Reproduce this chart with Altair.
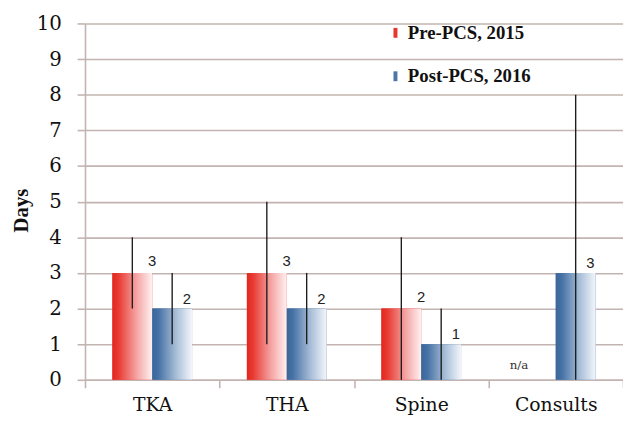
import altair as alt
import pandas as pd

categories = ["TKA", "THA", "Spine", "Consults"]
series = ["Pre-PCS, 2015", "Post-PCS, 2016"]
pre_values = [3, 3, 2, None]
post_values = [2, 2, 1, 3]
pre_low = [2, 1, 0, None]
pre_high = [4, 5, 4, None]
post_low = [1, 1, 0, 0]
post_high = [3, 3, 2, 8]
y_ticks = list(range(0, 11))
na_category = "Consults"
na_text = "n/a"

rows = []
for i, c in enumerate(categories):
    rows.append(dict(cat=c, series=series[0], value=pre_values[i], lo=pre_low[i], hi=pre_high[i]))
    rows.append(dict(cat=c, series=series[1], value=post_values[i], lo=post_low[i], hi=post_high[i]))
df = pd.DataFrame(rows)
na_df = pd.DataFrame([{"cat": na_category, "series": series[0], "value": 0, "text": na_text}])

GRID = "#c4b4b1"
SERIF_BOLD = "Liberation Serif"
SERIF = "DejaVu Serif"

x_axis = alt.Axis(title=None, tickBand="extent", labelAngle=0, labelFont=SERIF,
                  labelFontSize=19, labelColor="#111", labelPadding=8,
                  tickSize=8, tickColor=GRID, tickWidth=1.6,
                  domainColor=GRID, domainWidth=1.6, grid=False)
y_axis = alt.Axis(values=y_ticks, title="Days", titleFont=SERIF_BOLD, titleFontSize=21,
                  titleFontWeight="bold", titleColor="#111", titlePadding=5, titleY=189,
                  labelFont=SERIF, labelFontSize=20, labelColor="#111",
                  labelPadding=16, tickSize=8, tickColor=GRID, tickWidth=1.6,
                  grid=True, gridColor=GRID, gridWidth=1.6,
                  domainColor=GRID, domainWidth=1.6, labelOverlap=False)

x_enc = alt.X("cat:N", sort=categories,
              scale=alt.Scale(paddingInner=0, paddingOuter=0), axis=x_axis)
xo_enc = alt.XOffset("series:N", sort=series,
                     scale=alt.Scale(domain=series, paddingInner=0, paddingOuter=0.6875))
y_scale = alt.Scale(domain=[0, 10], nice=False)
y_val = alt.Y("value:Q", scale=y_scale, axis=y_axis)

base = alt.Chart(df)

legend_bars = base.mark_bar().encode(
    x=x_enc,
    xOffset=xo_enc,
    y=y_val,
    color=alt.Color("series:N", sort=series,
                    scale=alt.Scale(domain=series, range=["#e8352d", "#4a76a8"]),
                    legend=alt.Legend(orient="none", legendX=305, legendY=0, title=None,
                                      direction="vertical",
                                      symbolType="M-0.4,-1H0.4V1H-0.4Z", symbolSize=100,
                                      symbolStrokeWidth=0, symbolOpacity=1,
                                      labelFont=SERIF_BOLD, labelFontSize=19, labelFontWeight="bold",
                                      labelColor="#111", labelOffset=3, rowPadding=24,
                                      padding=0)),
)

red_grad = alt.Gradient(gradient="linear", x1=0, x2=1, y1=0, y2=0, stops=[
    alt.GradientStop(offset=0, color="#e2271f"),
    alt.GradientStop(offset=0.15, color="#e83a31"),
    alt.GradientStop(offset=0.6, color="#f5a2a2"),
    alt.GradientStop(offset=1, color="#fff1f1"),
])
blue_grad = alt.Gradient(gradient="linear", x1=0, x2=1, y1=0, y2=0, stops=[
    alt.GradientStop(offset=0, color="#3b669a"),
    alt.GradientStop(offset=0.15, color="#4571a5"),
    alt.GradientStop(offset=0.6, color="#a8bed7"),
    alt.GradientStop(offset=1, color="#f3f6fb"),
])

pre_only = alt.datum.series == series[0]
post_only = alt.datum.series == series[1]

red_bars = base.transform_filter(pre_only).mark_bar(fill=red_grad).encode(
    x=x_enc, xOffset=xo_enc, y=y_val)
blue_bars = base.transform_filter(post_only).mark_bar(fill=blue_grad).encode(
    x=x_enc, xOffset=xo_enc, y=y_val)

err = base.mark_rule(color="#1e1e1e", strokeWidth=1.4).encode(
    x=x_enc, xOffset=xo_enc, y=alt.Y("lo:Q", scale=y_scale, axis=y_axis), y2="hi:Q")

red_labels = base.transform_filter(pre_only).mark_text(
    dx=20, dy=-12, font="Liberation Sans", fontSize=15, color="#222").encode(
    x=x_enc, xOffset=xo_enc, y=y_val, text="value:Q")
blue_labels = base.transform_filter(post_only).mark_text(
    dx=15, dy=-10, font="Liberation Sans", fontSize=15, color="#222").encode(
    x=x_enc, xOffset=xo_enc, y=y_val, text="value:Q")

na_label = alt.Chart(na_df).mark_text(dx=-17, dy=-15, font=SERIF, fontSize=12, color="#333").encode(
    x=x_enc, xOffset=xo_enc, y=y_val, text="text:N")

chart = alt.layer(legend_bars, red_bars, blue_bars, err, red_labels, blue_labels, na_label).properties(
    width=545, height=361,
    autosize=alt.AutoSizeParams(type="none"),
    padding={"left": 78, "top": 13, "right": 0, "bottom": 34},
    background="white",
).configure_view(stroke=None)

chart.save("out.html", embed_options={"renderer": "svg", "actions": False})
